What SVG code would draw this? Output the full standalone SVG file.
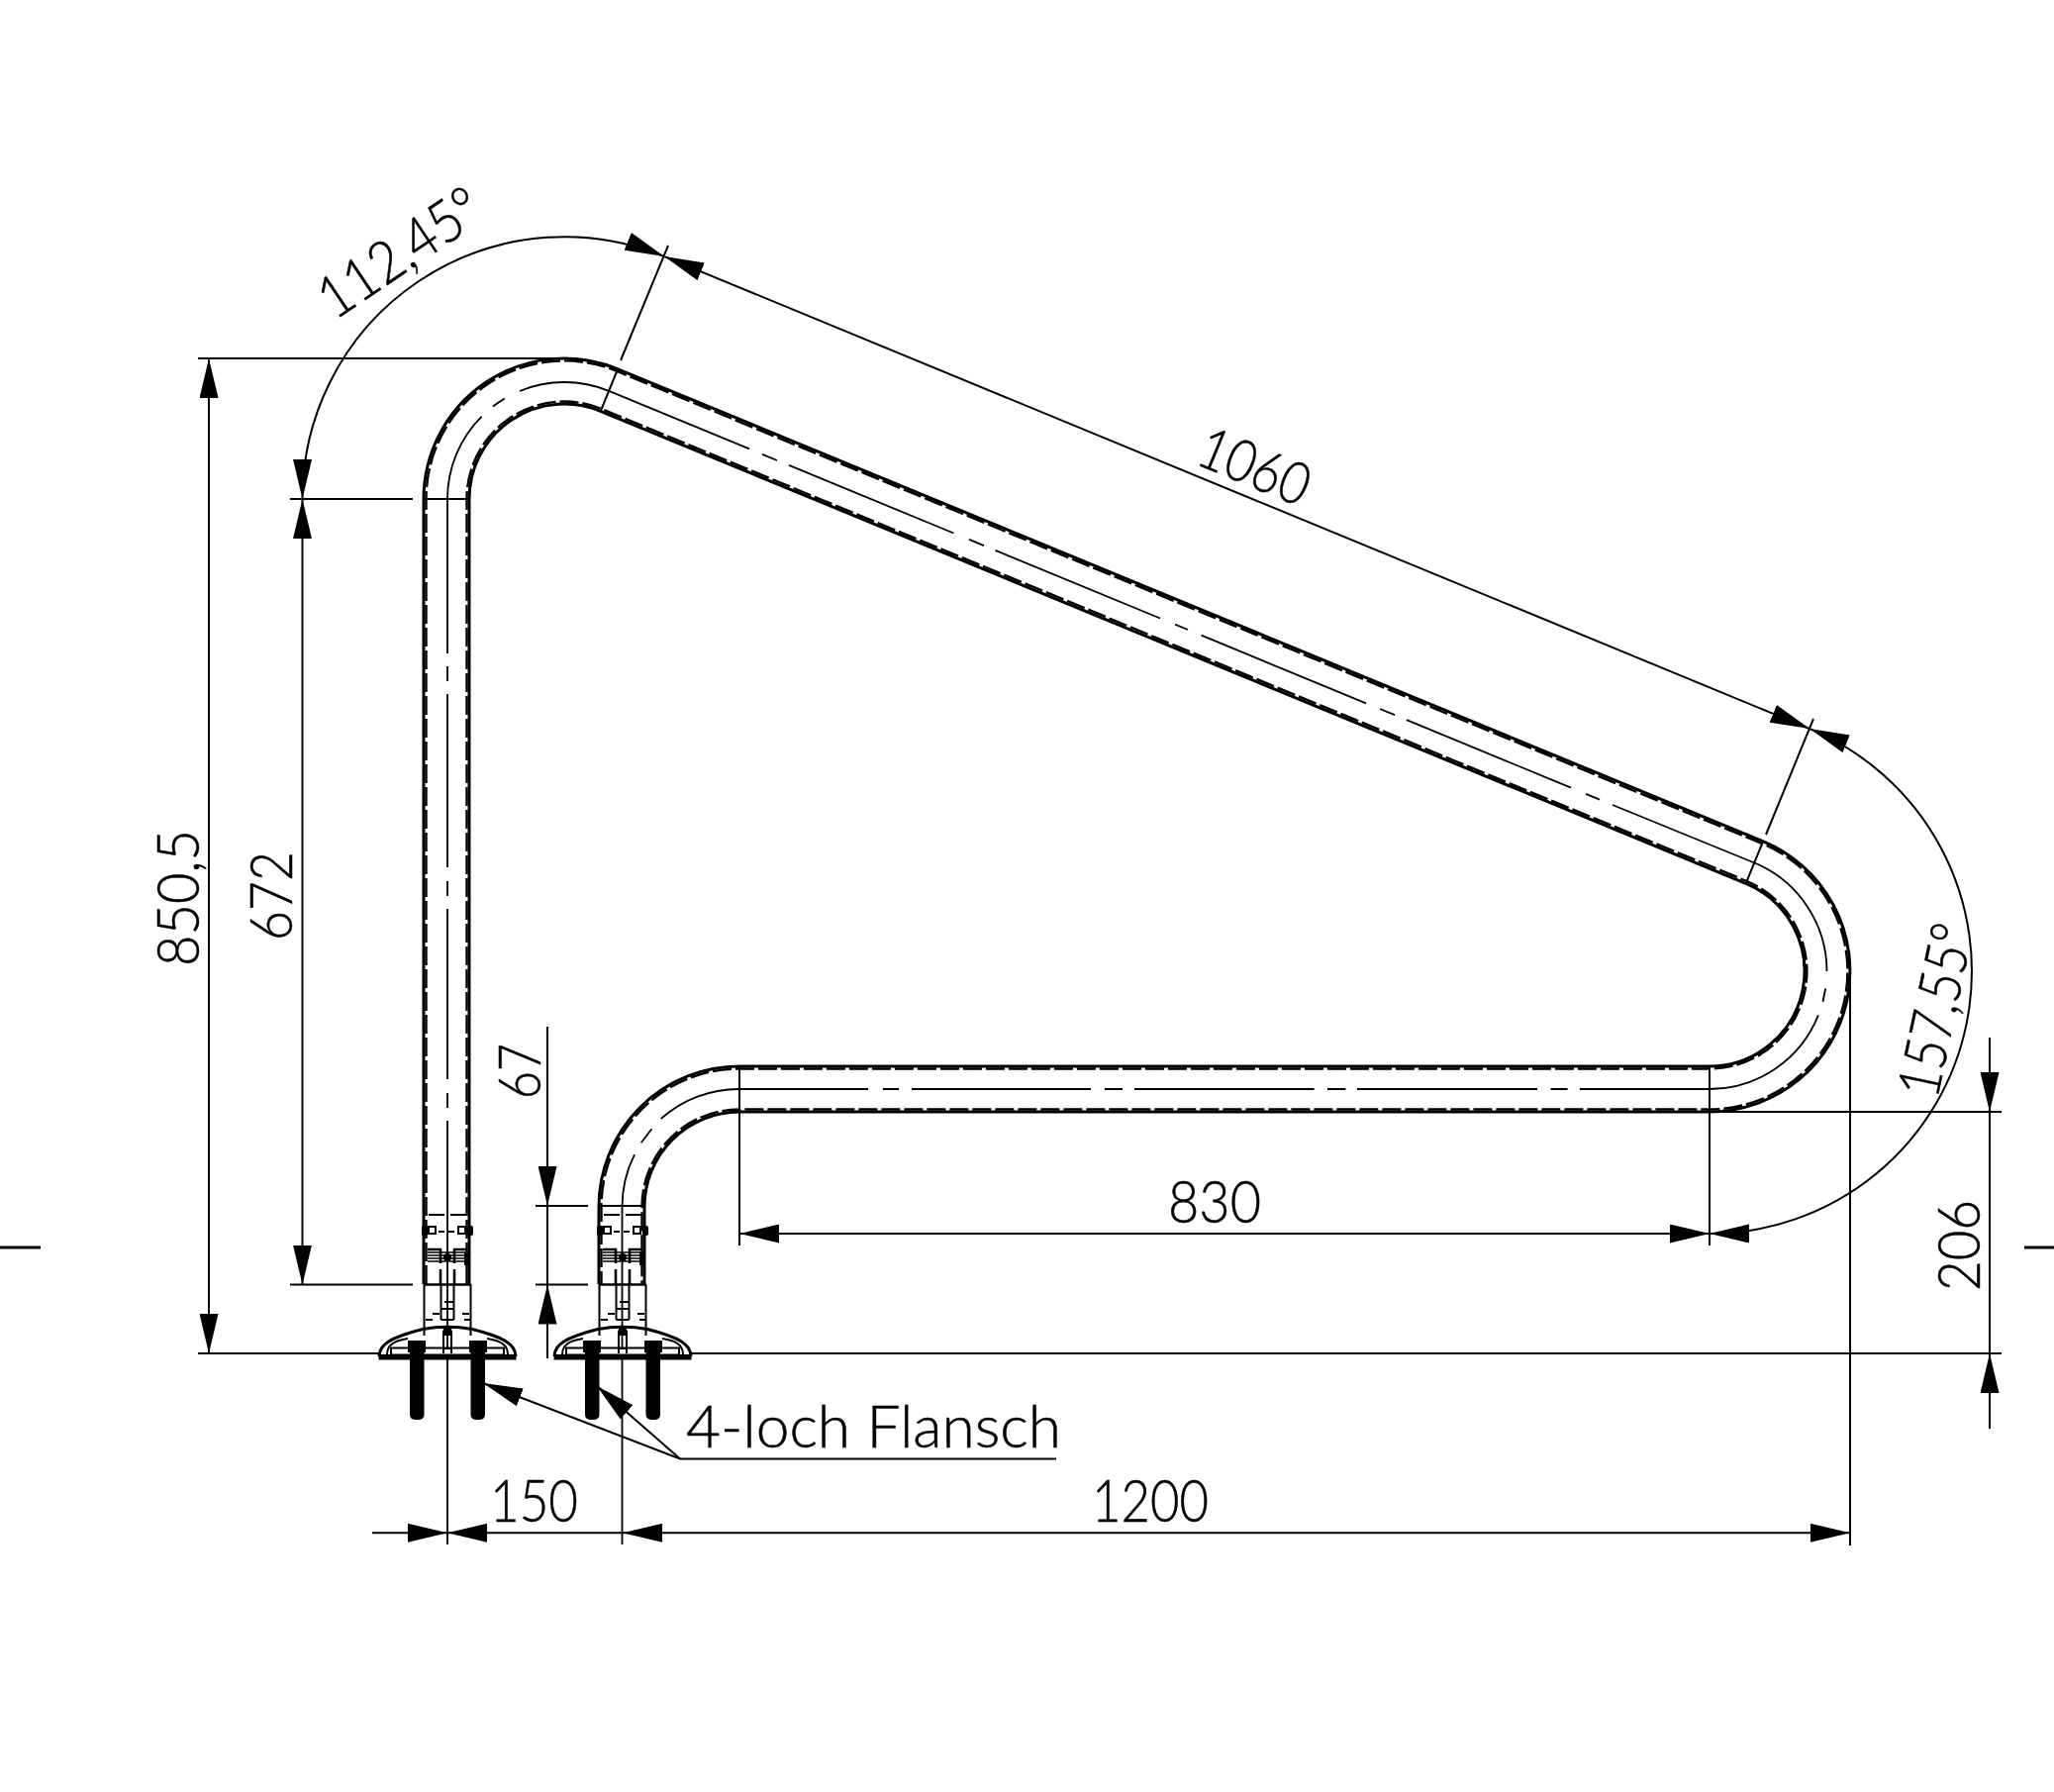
<svg xmlns="http://www.w3.org/2000/svg" xmlns:xlink="http://www.w3.org/1999/xlink" width="2075" height="1810" viewBox="0 0 2075 1810">
<style>
.bg{fill:#fff}
.dim,.ext,.cl,.wall,.walld,.d{fill:none;stroke:#000}
.dim{stroke-width:2}
.ext{stroke-width:2}
.cl{stroke-width:1.8}
.wall{stroke-width:3}
.walld{stroke-width:2.4;stroke-dasharray:19 4}
.d{stroke-width:2}
.k{fill:#000;stroke:none}
.w{fill:#fff;stroke:#000;stroke-width:2}
.a{marker-start:url(#arr);marker-end:url(#arr)}
.ae{marker-end:url(#arr)}
.as{marker-start:url(#arr)}
text{font-family:"Lato","Liberation Sans",sans-serif;font-weight:300;font-size:59px;fill:#000;stroke:#000;stroke-width:.5}
</style>
<defs>
<marker id="arr" viewBox="0 0 40 19" refX="40" refY="9.5" markerWidth="40" markerHeight="19" markerUnits="userSpaceOnUse" orient="auto-start-reverse"><path d="M0 0L40 9.5L0 19Z" fill="#000"/></marker>
<g id="base">
<path class="d" d="M-23.5 1297V1349M23.5 1297V1349"/>
<path class="d" style="stroke-width:2.5" d="M-23.5 1297.5H23.5"/>
<path class="d" d="M-19 1227H-3M3 1227H19M-9 1244H-3M1 1244H7M-3 1315H7M-15 1327H-8M15 1327H22M-22 1333H-15M17 1333H23"/>
<rect class="k" x="-26" y="1238" width="6" height="10" rx="2"/><rect class="k" x="20" y="1238" width="6" height="10" rx="2"/>
<rect class="w" x="-19" y="1239" width="7" height="7"/><rect class="w" x="11" y="1239" width="7" height="7"/>
<path class="d" style="stroke-width:2.6" d="M-20 1262H-7V1276M20 1262H7V1276M-7 1282V1297M7 1282V1297"/>
<path class="d" style="stroke-width:1.4" d="M-20 1265H20M-20 1268H20M-20 1271H20M-20 1274H20"/>
<circle class="k" cx="0" cy="1270" r="4"/><rect class="k" x="17" y="1265" width="4" height="13"/>
<path class="d" d="M-6.500 1297V1333M6.500 1297V1333M-6.500 1322H6.500M-6.500 1333H6.500"/>
<path class="d" style="stroke-width:3" d="M-69 1370C-69 1358-58 1351-25 1342.500Q0 1338 25 1342.500C58 1351 69 1358 69 1370"/>
<path class="d" d="M-61 1368C-61 1358-53 1354-40 1352M61 1368C61 1358 53 1354 40 1352"/>
<rect class="w" x="-57" y="1361.500" width="114" height="7"/>
<rect class="k" x="-40" y="1354" width="18" height="12"/><rect class="k" x="22" y="1354" width="18" height="12"/>
<path class="k" d="M-3 1340H3L5 1345V1349H-5V1345Z"/>
<path class="d" style="stroke-width:2" d="M-4 1349V1367M4 1349V1367M-4 1362H4"/>
<rect class="k" x="-69.500" y="1368" width="139" height="5.500"/>
<rect class="k" x="-38" y="1356" width="14.500" height="78" rx="5"/><rect class="k" x="23.500" y="1356" width="14.500" height="78" rx="5"/>
</g>
</defs>
<rect class="bg" width="2075" height="1810"/>
<g id="handrail">
<path class="wall" d="M428 1297V504A142 142 0 0 1 624.200 372.800L1781.200 849.800A142 142 0 0 1 1727 1123H747A96 96 0 0 0 651 1219V1297"/>
<path class="wall" d="M474 1297V504A96 96 0 0 1 606.700 415.300L1763.700 892.300A96 96 0 0 1 1727 1077H747A142 142 0 0 0 605 1219V1297"/>
<path class="walld" d="M430.500 1297V504A139.500 139.500 0 0 1 623.300 375L1780.300 852.100A139.500 139.500 0 0 1 1727 1120.500H747A98.500 98.500 0 0 0 648.500 1219V1297"/>
<path class="walld" d="M471.500 1297V504A98.500 98.500 0 0 1 607.600 413L1764.600 890A98.500 98.500 0 0 1 1727 1079.500H747A139.500 139.500 0 0 0 607.500 1219V1297"/>
<path class="cl" d="M452 1560V1132M452 1119V1104M452 1090V918M452 905V890M452 876V701M452 688V673M452 660V504A118 118 0 0 1 486.600 420.600M498 410.500A118 118 0 0 1 509.800 402.500M525 395A118 118 0 0 1 615.100 394.900L757 453.400M770 458.800L785 465M797 469.900L963.400 538.500M979 544.900L994 551.100M1005.500 555.900L1172 624.500M1187 630.700L1200 636M1213.600 641.700L1380 710.300M1394 716L1409 722.200M1421 727.200L1587 795.600M1602 801.800L1616 807.600M1629 813L1772.300 871.500A118.500 118.500 0 0 1 1845.500 981M1844.200 998.500L1841.500 1011.700M1836.900 1025.400A118.500 118.500 0 0 1 1727 1100H1596M1583.600 1100H1566.600M1553 1100H1371M1359.400 1100H1341M1327.600 1100H1146M1134 1100H1116M1102 1100H921M908 1100H892M877 1100H747A118.500 118.500 0 0 0 667.700 1130M658.400 1140.300L647.700 1154.300M641 1166.100A118.500 118.500 0 0 0 628.500 1219V1560"/>
<path class="ext" d="M428 504H474M605 1218H651M606.700 415.300L624 373M1763.700 892.300L1781 850"/>
</g>
<g id="flange-left"><use xlink:href="#base" href="#base" transform="translate(452 0)"/></g>
<g id="flange-right"><use xlink:href="#base" href="#base" transform="translate(629 0)"/></g>
<g id="connectors">
<path class="ext" d="M200 362H570M200 1367H383M698 1367H2022M293 504H417M293 1297.500H417M541 1218H594M541 1297.500H594M1727 1123H2022M627 364L675 248M1784 843L1832 726M747 1077V1258M1727 1077V1258M1869 981V1561"/>
<line class="dim a" x1="211" y1="362" x2="211" y2="1367"/>
<line class="dim a" x1="305.500" y1="504" x2="305.500" y2="1297.500"/>
<path class="dim a" d="M305.500 504A265 265 0 0 1 671.200 259.100"/>
<line class="dim a" x1="671.200" y1="259.100" x2="1828.200" y2="736.100"/>
<path class="dim a" d="M1828.200 736.100A265 265 0 0 1 1727 1246"/>
<line class="dim a" x1="747" y1="1246" x2="1727" y2="1246"/>
<line class="dim ae" x1="553" y1="1037" x2="553" y2="1218"/>
<line class="dim" x1="553" y1="1218" x2="553" y2="1297.500"/>
<line class="dim ae" x1="553" y1="1372" x2="553" y2="1297.500"/>
<line class="dim ae" x1="2010" y1="1048" x2="2010" y2="1123"/>
<line class="dim" x1="2010" y1="1123" x2="2010" y2="1367"/>
<line class="dim ae" x1="2010" y1="1443" x2="2010" y2="1367"/>
<line class="dim ae" x1="376" y1="1548.300" x2="452" y2="1548.300"/>
<line class="dim ae" x1="629" y1="1548.300" x2="452" y2="1548.300"/>
<line class="dim a" x1="629" y1="1548.300" x2="1869" y2="1548.300"/>
<line class="dim as" x1="488" y1="1397" x2="687" y2="1473.500"/>
<line class="dim as" x1="603" y1="1400" x2="687" y2="1473.500"/>
<line class="dim" x1="687" y1="1473.500" x2="1067" y2="1473.500"/>
<path style="stroke:#000;stroke-width:3;fill:none" d="M0 1260H41M2045 1260H2075"/>
</g>
<g id="labels">
<text transform="translate(338 324) rotate(-34)" textLength="186" lengthAdjust="spacingAndGlyphs">112,45°</text>
<text transform="translate(1206 468) rotate(22.45)" textLength="116" lengthAdjust="spacingAndGlyphs">1060</text>
<text transform="translate(1957 1111) rotate(-78)" textLength="177" lengthAdjust="spacingAndGlyphs">157,55°</text>
<text transform="translate(200.500 976) rotate(-90)" textLength="138" lengthAdjust="spacingAndGlyphs">850,5</text>
<text transform="translate(295 950) rotate(-90)" textLength="90" lengthAdjust="spacingAndGlyphs">672</text>
<text transform="translate(546 1110) rotate(-90)" textLength="56" lengthAdjust="spacingAndGlyphs">67</text>
<text transform="translate(2000 1304) rotate(-90)" textLength="92" lengthAdjust="spacingAndGlyphs">206</text>
<text x="1180" y="1235" textLength="94" lengthAdjust="spacingAndGlyphs">830</text>
<text x="495" y="1537" textLength="89" lengthAdjust="spacingAndGlyphs">150</text>
<text x="1103" y="1537" textLength="118" lengthAdjust="spacingAndGlyphs">1200</text>
<text x="693" y="1462" textLength="379" lengthAdjust="spacingAndGlyphs">4-loch Flansch</text>
</g>
</svg>
